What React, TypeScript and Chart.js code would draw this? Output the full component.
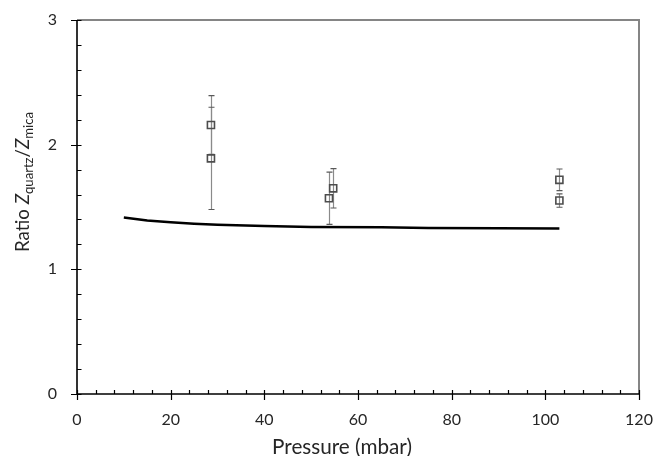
import React, { useEffect, useRef } from "react";
import { Chart, registerables } from "chart.js";

Chart.register(...registerables);

// Model curve
const pressureModel = [10, 15, 20, 25, 30, 40, 50, 65, 75, 90, 103];
const ratioModel = [1.415, 1.392, 1.378, 1.366, 1.358, 1.348, 1.34, 1.338, 1.332, 1.33, 1.328];

// Measurements with error bars
const pressureMeasured = [28.6, 28.6, 53.8, 54.7, 103.0, 103.0];
const ratioMeasured = [2.158, 1.89, 1.57, 1.65, 1.718, 1.552];
const ratioError = [0.235, 0.41, 0.21, 0.158, 0.087, 0.054];

const xTicks = [0, 20, 40, 60, 80, 100, 120];
const yTicks = [0, 1, 2, 3];

const xTitle = "Pressure (mbar)";
const yTitleParts = ["Ratio ", "Z", "quartz", "/", "Z", "mica"];

const FONT = "Lato, 'Open Sans', sans-serif";
const TEXT = "#262626";

const framePlugin = {
  id: "frame",
  afterDraw(chart: any) {
    const { ctx, chartArea } = chart;
    const { left, right, top, bottom } = chartArea;
    const xs = chart.scales.x;
    const ys = chart.scales.y;
    ctx.save();
    // grey top and right border
    ctx.strokeStyle = "#858585";
    ctx.lineWidth = 2;
    ctx.beginPath();
    ctx.moveTo(left, top);
    ctx.lineTo(right, top);
    ctx.lineTo(right, bottom);
    ctx.stroke();
    // black axes
    ctx.strokeStyle = "#000";
    ctx.lineWidth = 1.6;
    ctx.beginPath();
    ctx.moveTo(left, top);
    ctx.lineTo(left, bottom);
    ctx.lineTo(right, bottom);
    ctx.stroke();
    ctx.lineWidth = 1.2;
    ctx.beginPath();
    for (let v = 0; v <= 3.0001; v += 0.2) {
      const y = Math.round(ys.getPixelForValue(v)) + 0.5;
      const major = Math.abs(v - Math.round(v)) < 1e-6;
      ctx.moveTo(left - (major ? 6 : 0), y);
      ctx.lineTo(left + 4.5, y);
    }
    for (let v = 0; v <= 120.0001; v += 4) {
      const x = Math.round(xs.getPixelForValue(v)) + 0.5;
      const major = v % 20 === 0;
      ctx.moveTo(x, bottom - 4);
      ctx.lineTo(x, bottom + (major ? 6 : 0));
    }
    ctx.stroke();

    // x title, sized to ~140px wide
    ctx.fillStyle = TEXT;
    ctx.textBaseline = "alphabetic";
    ctx.textAlign = "center";
    ctx.font = `20px ${FONT}`;
    const xw = ctx.measureText(xTitle).width;
    const xSize = (20 * 140) / xw;
    ctx.font = `${xSize}px ${FONT}`;
    ctx.fillText(xTitle, 342, 454);

    // y title with subscripts, rotated, ~140px long
    const build = (s: number): Array<[string, string, number]> => {
      const sub = s * 0.7;
      return [
        [yTitleParts[0], `${s}px ${FONT}`, 0],
        [yTitleParts[1], `italic ${s}px ${FONT}`, 0],
        [yTitleParts[2], `${sub}px ${FONT}`, s * 0.22],
        [yTitleParts[3], `${s}px ${FONT}`, 0],
        [yTitleParts[4], `italic ${s}px ${FONT}`, 0],
        [yTitleParts[5], `${sub}px ${FONT}`, s * 0.22],
      ];
    };
    const measure = (parts: Array<[string, string, number]>) =>
      parts.map(([t, f]) => {
        ctx.font = f;
        return ctx.measureText(t).width;
      });
    let parts = build(17);
    let widths = measure(parts);
    let total = widths.reduce((a, b) => a + b, 0);
    const ySize = (17 * 140) / total;
    parts = build(ySize);
    widths = measure(parts);
    total = widths.reduce((a, b) => a + b, 0);
    ctx.translate(28.5, 182);
    ctx.rotate(-Math.PI / 2);
    ctx.textAlign = "left";
    let px = -total / 2;
    parts.forEach(([t, f, dy], i) => {
      ctx.font = f;
      ctx.fillText(t, px, dy);
      px += widths[i];
    });
    ctx.restore();
  },
};

const errorBarPlugin = {
  id: "errorBars",
  beforeDatasetsDraw(chart: any) {
    const { ctx } = chart;
    const xs = chart.scales.x;
    const ys = chart.scales.y;
    ctx.save();
    pressureMeasured.forEach((p, i) => {
      const x = Math.round(xs.getPixelForValue(p)) + 0.5;
      const yTop = ys.getPixelForValue(ratioMeasured[i] + ratioError[i]);
      const yBot = ys.getPixelForValue(ratioMeasured[i] - ratioError[i]);
      ctx.strokeStyle = "#8a8a8a";
      ctx.lineWidth = 1.2;
      ctx.beginPath();
      ctx.moveTo(x, yTop);
      ctx.lineTo(x, yBot);
      ctx.stroke();
      ctx.strokeStyle = "#595959";
      ctx.beginPath();
      ctx.moveTo(x - 3, yTop);
      ctx.lineTo(x + 3, yTop);
      ctx.moveTo(x - 3, yBot);
      ctx.lineTo(x + 3, yBot);
      ctx.stroke();
    });
    ctx.restore();
  },
};

export default function App() {
  const ref = useRef<HTMLCanvasElement | null>(null);
  useEffect(() => {
    if (!ref.current) return;
    const chart = new Chart(ref.current, {
      type: "scatter",
      data: {
        datasets: [
          {
            label: "Model",
            data: pressureModel.map((x, i) => ({ x, y: ratioModel[i] })),
            showLine: true,
            borderColor: "#000",
            borderWidth: 2.5,
            pointRadius: 0,
            tension: 0,
          },
          {
            label: "Measured",
            data: pressureMeasured.map((x, i) => ({ x, y: ratioMeasured[i] })),
            showLine: false,
            pointStyle: "rect",
            pointRadius: 5,
            borderColor: "#4d4d4d",
            backgroundColor: "rgba(255,255,255,0)",
            borderWidth: 1.6,
          },
        ],
      },
      options: {
        animation: false,
        responsive: false,
        devicePixelRatio: 1,
        layout: { padding: { top: 20, right: 32, left: 0, bottom: 0 } },
        plugins: { legend: { display: false }, tooltip: { enabled: false } },
        scales: {
          x: {
            type: "linear",
            min: 0,
            max: 120,
            afterBuildTicks: (s: any) => {
              s.ticks = xTicks.map((v) => ({ value: v }));
            },
            afterFit: (s: any) => {
              s.height = 62;
              s.paddingLeft = 0;
              s.paddingRight = 0;
            },
            grid: { display: false, drawTicks: false },
            border: { display: false },
            ticks: { padding: 16, color: TEXT, font: { family: FONT, size: 16 } },
          },
          y: {
            type: "linear",
            min: 0,
            max: 3,
            afterBuildTicks: (s: any) => {
              s.ticks = yTicks.map((v) => ({ value: v }));
            },
            afterFit: (s: any) => {
              s.width = 77;
              s.paddingTop = 0;
              s.paddingBottom = 0;
            },
            grid: { display: false, drawTicks: false },
            border: { display: false },
            ticks: { padding: 20, color: TEXT, font: { family: FONT, size: 16 } },
          },
        },
      },
      plugins: [errorBarPlugin, framePlugin],
    });
    return () => chart.destroy();
  }, []);
  return (
    <div style={{ position: "fixed", left: 0, top: 0, width: 671, height: 456, background: "#fff" }}>
      <canvas ref={ref} width={671} height={456} style={{ display: "block" }} />
    </div>
  );
}
